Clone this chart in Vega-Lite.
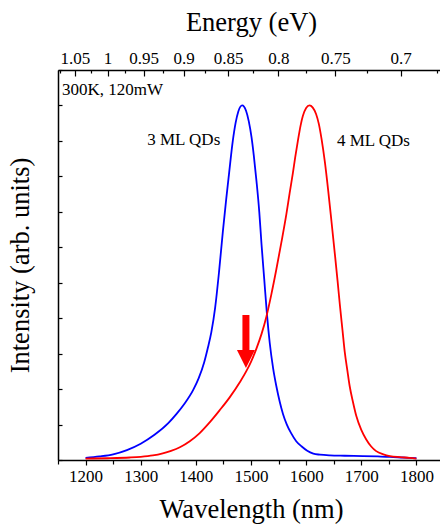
{
  "$schema": "https://vega.github.io/schema/vega-lite/v6.json",
  "autosize": "none",
  "width": 386,
  "height": 390,
  "padding": {"left": 58, "top": 70, "right": 0, "bottom": 69},
  "config": {"font": "Liberation Serif", "view": {"stroke": null}},
  "datasets": {
    "spectra": [
      {"wl": 1200, "intensity": 0.006, "series": "3 ML"},
      {"wl": 1225, "intensity": 0.010, "series": "3 ML"},
      {"wl": 1250, "intensity": 0.016, "series": "3 ML"},
      {"wl": 1275, "intensity": 0.028, "series": "3 ML"},
      {"wl": 1300, "intensity": 0.046, "series": "3 ML"},
      {"wl": 1325, "intensity": 0.071, "series": "3 ML"},
      {"wl": 1350, "intensity": 0.104, "series": "3 ML"},
      {"wl": 1365, "intensity": 0.13, "series": "3 ML"},
      {"wl": 1380, "intensity": 0.16, "series": "3 ML"},
      {"wl": 1395, "intensity": 0.197, "series": "3 ML"},
      {"wl": 1405, "intensity": 0.23, "series": "3 ML"},
      {"wl": 1415, "intensity": 0.275, "series": "3 ML"},
      {"wl": 1422, "intensity": 0.318, "series": "3 ML"},
      {"wl": 1428, "intensity": 0.36, "series": "3 ML"},
      {"wl": 1435, "intensity": 0.43, "series": "3 ML"},
      {"wl": 1442, "intensity": 0.53, "series": "3 ML"},
      {"wl": 1449, "intensity": 0.645, "series": "3 ML"},
      {"wl": 1455, "intensity": 0.735, "series": "3 ML"},
      {"wl": 1460, "intensity": 0.805, "series": "3 ML"},
      {"wl": 1467, "intensity": 0.9, "series": "3 ML"},
      {"wl": 1472, "intensity": 0.95, "series": "3 ML"},
      {"wl": 1477, "intensity": 0.983, "series": "3 ML"},
      {"wl": 1484, "intensity": 1.0, "series": "3 ML"},
      {"wl": 1491, "intensity": 0.985, "series": "3 ML"},
      {"wl": 1496, "intensity": 0.955, "series": "3 ML"},
      {"wl": 1501, "intensity": 0.91, "series": "3 ML"},
      {"wl": 1505, "intensity": 0.86, "series": "3 ML"},
      {"wl": 1510, "intensity": 0.786, "series": "3 ML"},
      {"wl": 1515, "intensity": 0.70, "series": "3 ML"},
      {"wl": 1519, "intensity": 0.61, "series": "3 ML"},
      {"wl": 1524, "intensity": 0.51, "series": "3 ML"},
      {"wl": 1529, "intensity": 0.41, "series": "3 ML"},
      {"wl": 1534, "intensity": 0.33, "series": "3 ML"},
      {"wl": 1540, "intensity": 0.26, "series": "3 ML"},
      {"wl": 1546, "intensity": 0.208, "series": "3 ML"},
      {"wl": 1552, "intensity": 0.165, "series": "3 ML"},
      {"wl": 1558, "intensity": 0.13, "series": "3 ML"},
      {"wl": 1565, "intensity": 0.10, "series": "3 ML"},
      {"wl": 1573, "intensity": 0.075, "series": "3 ML"},
      {"wl": 1582, "intensity": 0.053, "series": "3 ML"},
      {"wl": 1592, "intensity": 0.038, "series": "3 ML"},
      {"wl": 1602, "intensity": 0.026, "series": "3 ML"},
      {"wl": 1613, "intensity": 0.018, "series": "3 ML"},
      {"wl": 1625, "intensity": 0.015, "series": "3 ML"},
      {"wl": 1643, "intensity": 0.013, "series": "3 ML"},
      {"wl": 1670, "intensity": 0.012, "series": "3 ML"},
      {"wl": 1703, "intensity": 0.011, "series": "3 ML"},
      {"wl": 1730, "intensity": 0.010, "series": "3 ML"},
      {"wl": 1752, "intensity": 0.009, "series": "3 ML"},
      {"wl": 1775, "intensity": 0.007, "series": "3 ML"},
      {"wl": 1800, "intensity": 0.005, "series": "3 ML"},
      {"wl": 1200, "intensity": 0.004, "series": "4 ML"},
      {"wl": 1240, "intensity": 0.005, "series": "4 ML"},
      {"wl": 1280, "intensity": 0.007, "series": "4 ML"},
      {"wl": 1300, "intensity": 0.009, "series": "4 ML"},
      {"wl": 1322, "intensity": 0.013, "series": "4 ML"},
      {"wl": 1340, "intensity": 0.019, "series": "4 ML"},
      {"wl": 1355, "intensity": 0.026, "series": "4 ML"},
      {"wl": 1371, "intensity": 0.036, "series": "4 ML"},
      {"wl": 1389, "intensity": 0.053, "series": "4 ML"},
      {"wl": 1407, "intensity": 0.076, "series": "4 ML"},
      {"wl": 1425, "intensity": 0.106, "series": "4 ML"},
      {"wl": 1443, "intensity": 0.14, "series": "4 ML"},
      {"wl": 1461, "intensity": 0.176, "series": "4 ML"},
      {"wl": 1480, "intensity": 0.22, "series": "4 ML"},
      {"wl": 1492, "intensity": 0.252, "series": "4 ML"},
      {"wl": 1500, "intensity": 0.277, "series": "4 ML"},
      {"wl": 1510, "intensity": 0.315, "series": "4 ML"},
      {"wl": 1519, "intensity": 0.355, "series": "4 ML"},
      {"wl": 1528, "intensity": 0.405, "series": "4 ML"},
      {"wl": 1537, "intensity": 0.468, "series": "4 ML"},
      {"wl": 1546, "intensity": 0.538, "series": "4 ML"},
      {"wl": 1555, "intensity": 0.613, "series": "4 ML"},
      {"wl": 1564, "intensity": 0.692, "series": "4 ML"},
      {"wl": 1570, "intensity": 0.752, "series": "4 ML"},
      {"wl": 1576, "intensity": 0.81, "series": "4 ML"},
      {"wl": 1580, "intensity": 0.852, "series": "4 ML"},
      {"wl": 1585, "intensity": 0.9, "series": "4 ML"},
      {"wl": 1590, "intensity": 0.944, "series": "4 ML"},
      {"wl": 1594, "intensity": 0.97, "series": "4 ML"},
      {"wl": 1600, "intensity": 0.993, "series": "4 ML"},
      {"wl": 1606, "intensity": 1.0, "series": "4 ML"},
      {"wl": 1612, "intensity": 0.994, "series": "4 ML"},
      {"wl": 1618, "intensity": 0.976, "series": "4 ML"},
      {"wl": 1623, "intensity": 0.948, "series": "4 ML"},
      {"wl": 1628, "intensity": 0.905, "series": "4 ML"},
      {"wl": 1634, "intensity": 0.84, "series": "4 ML"},
      {"wl": 1640, "intensity": 0.76, "series": "4 ML"},
      {"wl": 1646, "intensity": 0.672, "series": "4 ML"},
      {"wl": 1652, "intensity": 0.582, "series": "4 ML"},
      {"wl": 1657, "intensity": 0.505, "series": "4 ML"},
      {"wl": 1661, "intensity": 0.44, "series": "4 ML"},
      {"wl": 1666, "intensity": 0.365, "series": "4 ML"},
      {"wl": 1670, "intensity": 0.305, "series": "4 ML"},
      {"wl": 1675, "intensity": 0.25, "series": "4 ML"},
      {"wl": 1679, "intensity": 0.208, "series": "4 ML"},
      {"wl": 1685, "intensity": 0.163, "series": "4 ML"},
      {"wl": 1691, "intensity": 0.124, "series": "4 ML"},
      {"wl": 1700, "intensity": 0.085, "series": "4 ML"},
      {"wl": 1709, "intensity": 0.058, "series": "4 ML"},
      {"wl": 1718, "intensity": 0.038, "series": "4 ML"},
      {"wl": 1727, "intensity": 0.025, "series": "4 ML"},
      {"wl": 1740, "intensity": 0.016, "series": "4 ML"},
      {"wl": 1752, "intensity": 0.011, "series": "4 ML"},
      {"wl": 1770, "intensity": 0.008, "series": "4 ML"},
      {"wl": 1788, "intensity": 0.006, "series": "4 ML"},
      {"wl": 1800, "intensity": 0.004, "series": "4 ML"}
    ],
    "labels": [
      {"wl": 1249, "intensity": 1.03, "text": "300K, 120mW"},
      {"wl": 1378, "intensity": 0.889, "text": "3 ML QDs"},
      {"wl": 1722, "intensity": 0.886, "text": "4 ML QDs"}
    ],
    "arrow": [
      {"wl": 1490.8, "top": 0.409, "bottom": 0.31, "head": 0.285}
    ]
  },
  "resolve": {"axis": {"x": "independent", "y": "independent"}},
  "layer": [
    {
      "data": {"name": "spectra"},
      "mark": {"type": "line", "strokeWidth": 1.8, "interpolate": "monotone"},
      "encoding": {
        "x": {
          "field": "wl", "type": "quantitative",
          "scale": {"domain": [1150, 1850], "nice": false, "zero": false},
          "axis": {
            "orient": "bottom",
            "title": "Wavelength (nm)",
            "values": [1150, 1200, 1250, 1300, 1350, 1400, 1450, 1500, 1550, 1600, 1650, 1700, 1750, 1800, 1850],
            "labelExpr": "datum.value % 100 == 0 && datum.value >= 1200 && datum.value <= 1800 ? '' + datum.value : ''",
            "tickSize": {"condition": {"test": "datum.value % 100 == 0", "value": 5}, "value": 4},
            "grid": false,
            "domainColor": "black", "domainWidth": 1.5,
            "tickColor": "black", "tickWidth": 1.2,
            "labelColor": "black", "labelFontSize": 17, "labelPadding": 3,
            "labelFlush": false, "labelOverlap": false,
            "titleColor": "black", "titleFontSize": 26.5, "titleFontWeight": "normal", "titlePadding": 12
          }
        },
        "y": {
          "field": "intensity", "type": "quantitative",
          "scale": {"domain": [0, 1.1], "nice": false},
          "axis": {
            "orient": "left",
            "title": "Intensity (arb. units)",
            "values": [0, 0.1, 0.2, 0.3, 0.4, 0.5, 0.6, 0.7, 0.8, 0.9, 1.0, 1.1],
            "labels": false,
            "tickSize": -4,
            "grid": false,
            "domainColor": "black", "domainWidth": 1.5,
            "tickColor": "black", "tickWidth": 1.2,
            "titleColor": "black", "titleFontSize": 26.5, "titleFontWeight": "normal", "titlePadding": 23
          }
        },
        "color": {
          "field": "series", "type": "nominal",
          "scale": {"domain": ["3 ML", "4 ML"], "range": ["#0000ff", "#ff0000"]},
          "legend": null
        }
      }
    },
    {
      "data": {"name": "labels"},
      "mark": {"type": "text", "fontSize": 17, "baseline": "alphabetic", "align": "center", "color": "black"},
      "encoding": {
        "x": {
          "field": "wl", "type": "quantitative",
          "axis": {
            "orient": "top",
            "title": "Energy (eV)",
            "values": [1153.34, 1180.8, 1209.6, 1239.84, 1271.63, 1305.09, 1340.37, 1377.6, 1416.96, 1458.64, 1502.84, 1549.8, 1599.79, 1653.12, 1710.12, 1771.2, 1836.8],
            "labelExpr": "round(1239840 / datum.value) % 50 == 0 ? '' + round(1239840 / datum.value) / 1000 : ''",
            "tickSize": {"condition": {"test": "round(1239840 / datum.value) % 50 == 0", "value": -6}, "value": -3},
            "grid": false,
            "domainColor": "black", "domainWidth": 1.5,
            "tickColor": "black", "tickWidth": 1.2,
            "labelColor": "black", "labelFontSize": 17, "labelPadding": 9,
            "labelFlush": false, "labelOverlap": false,
            "titleColor": "black", "titleFontSize": 26.5, "titleFontWeight": "normal", "titlePadding": 10
          }
        },
        "y": {"field": "intensity", "type": "quantitative", "axis": null},
        "text": {"field": "text"}
      }
    },
    {
      "data": {"name": "arrow"},
      "mark": {"type": "rule", "color": "#ff0000", "strokeWidth": 7},
      "encoding": {
        "x": {"field": "wl", "type": "quantitative", "axis": null},
        "y": {"field": "top", "type": "quantitative", "axis": null},
        "y2": {"field": "bottom"}
      }
    },
    {
      "data": {"name": "arrow"},
      "mark": {"type": "point", "shape": "M-1,-1L1,-1L0,1Z", "size": 324, "filled": true, "color": "#ff0000", "opacity": 1, "strokeWidth": 0},
      "encoding": {
        "x": {"field": "wl", "type": "quantitative", "axis": null},
        "y": {"field": "head", "type": "quantitative", "axis": null}
      }
    }
  ]
}
